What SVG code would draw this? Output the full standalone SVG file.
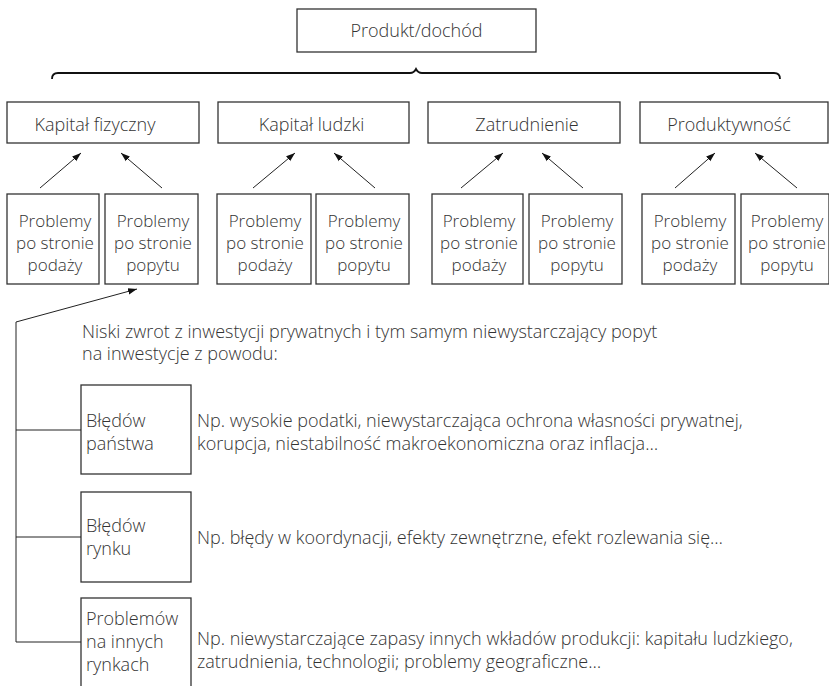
<svg xmlns="http://www.w3.org/2000/svg" width="829" height="686" viewBox="0 0 829 686">
<defs>
<style>
.box{fill:#fff;stroke:#333;stroke-width:1.3}
.t{font-family:"Open Sans","Noto Sans",sans-serif;font-size:18px;font-weight:300;fill:#333}
.s{font-size:17px}
.c{text-anchor:middle}
.ln{fill:none;stroke:#222;stroke-width:1}
.br{fill:none;stroke:#111;stroke-width:1.8}
</style>
<marker id="ah" viewBox="0 0 10 10" refX="10" refY="5" markerWidth="9" markerHeight="9" markerUnits="userSpaceOnUse" orient="auto">
<path d="M0,1.5 L10,5 L0,8.5 Z" fill="#111"/>
</marker>
</defs>
<rect width="829" height="686" fill="#fff"/>

<g id="produkt">
<rect class="box" x="297" y="9" width="239" height="43"/>
<text class="t c" x="416.5" y="37">Produkt/dochód</text>
</g>

<g id="brace">
<path class="br" d="M52,79 Q52,73 58,73 L410,73 Q414,73 416,69 Q418,73 422,73 L774,73 Q780,73 780,79"/>
</g>

<g id="kapital-fizyczny">
<rect class="box" x="7" y="102" width="192" height="41"/>
<text class="t c" x="95" y="131">Kapitał fizyczny</text>
</g>
<g id="kapital-ludzki">
<rect class="box" x="218" y="102" width="191" height="41"/>
<text class="t c" x="311.5" y="131">Kapitał ludzki</text>
</g>
<g id="zatrudnienie">
<rect class="box" x="428" y="102" width="192" height="41"/>
<text class="t c" x="527" y="131">Zatrudnienie</text>
</g>
<g id="produktywnosc">
<rect class="box" x="640" y="102" width="188" height="41"/>
<text class="t c" x="729" y="131">Produktywność</text>
</g>

<g id="kf-podaz">
<rect class="box" x="7" y="194" width="92" height="90"/>
<text class="t s c" x="55" y="227">Problemy</text><text class="t s c" x="55" y="249">po stronie</text><text class="t s c" x="55" y="271">podaży</text>
</g>
<g id="kf-popyt">
<rect class="box" x="105" y="194" width="93" height="90"/>
<text class="t s c" x="153" y="227">Problemy</text><text class="t s c" x="153" y="249">po stronie</text><text class="t s c" x="153" y="271">popytu</text>
</g>
<g id="kl-podaz">
<rect class="box" x="217" y="194" width="94" height="90"/>
<text class="t s c" x="265" y="227">Problemy</text><text class="t s c" x="265" y="249">po stronie</text><text class="t s c" x="265" y="271">podaży</text>
</g>
<g id="kl-popyt">
<rect class="box" x="316" y="194" width="93" height="90"/>
<text class="t s c" x="364" y="227">Problemy</text><text class="t s c" x="364" y="249">po stronie</text><text class="t s c" x="364" y="271">popytu</text>
</g>
<g id="z-podaz">
<rect class="box" x="432" y="194" width="91" height="90"/>
<text class="t s c" x="479" y="227">Problemy</text><text class="t s c" x="479" y="249">po stronie</text><text class="t s c" x="479" y="271">podaży</text>
</g>
<g id="z-popyt">
<rect class="box" x="529" y="194" width="93" height="90"/>
<text class="t s c" x="577" y="227">Problemy</text><text class="t s c" x="577" y="249">po stronie</text><text class="t s c" x="577" y="271">popytu</text>
</g>
<g id="p-podaz">
<rect class="box" x="642" y="194" width="93" height="90"/>
<text class="t s c" x="690" y="227">Problemy</text><text class="t s c" x="690" y="249">po stronie</text><text class="t s c" x="690" y="271">podaży</text>
</g>
<g id="p-popyt">
<rect class="box" x="741" y="194" width="88" height="90"/>
<text class="t s c" x="787" y="227">Problemy</text><text class="t s c" x="787" y="249">po stronie</text><text class="t s c" x="787" y="271">popytu</text>
</g>

<g id="intro">
<text class="t" x="82" y="338">Niski zwrot z inwestycji prywatnych i tym samym niewystarczający popyt</text>
<text class="t" x="82" y="360">na inwestycje z powodu:</text>
</g>

<g id="bledy-panstwa">
<rect class="box" x="81" y="385" width="110" height="89"/>
<text class="t" x="86" y="427">Błędów</text><text class="t" x="86" y="450">państwa</text>
<text class="t" x="197" y="427">Np. wysokie podatki, niewystarczająca ochrona własności prywatnej,</text>
<text class="t" x="197" y="450">korupcja, niestabilność makroekonomiczna oraz inflacja…</text>
</g>
<g id="bledy-rynku">
<rect class="box" x="81" y="492" width="110" height="90"/>
<text class="t" x="86" y="532">Błędów</text><text class="t" x="86" y="555">rynku</text>
<text class="t" x="197" y="544">Np. błędy w koordynacji, efekty zewnętrzne, efekt rozlewania się…</text>
</g>
<g id="inne-rynki">
<rect class="box" x="81" y="598" width="110" height="100"/>
<text class="t" x="86" y="625">Problemów</text><text class="t" x="86" y="648">na innych</text><text class="t" x="86" y="671">rynkach</text>
<text class="t" x="197" y="645">Np. niewystarczające zapasy innych wkładów produkcji: kapitału ludzkiego,</text>
<text class="t" x="197" y="668">zatrudnienia, technologii; problemy geograficzne…</text>
</g>

<g id="connectors">
<line class="ln" x1="40" y1="188" x2="81" y2="153" marker-end="url(#ah)"/>
<line class="ln" x1="162" y1="188" x2="121" y2="153" marker-end="url(#ah)"/>
<line class="ln" x1="253" y1="188" x2="295" y2="153" marker-end="url(#ah)"/>
<line class="ln" x1="375" y1="188" x2="334" y2="153" marker-end="url(#ah)"/>
<line class="ln" x1="461" y1="188" x2="503" y2="153" marker-end="url(#ah)"/>
<line class="ln" x1="583" y1="188" x2="542" y2="153" marker-end="url(#ah)"/>
<line class="ln" x1="675" y1="188" x2="715" y2="153" marker-end="url(#ah)"/>
<line class="ln" x1="797" y1="188" x2="755" y2="153" marker-end="url(#ah)"/>
<path class="ln" d="M16,642 L16,322 L137,289" marker-end="url(#ah)"/>
<line class="ln" x1="16" y1="430" x2="81" y2="430"/>
<line class="ln" x1="16" y1="537" x2="81" y2="537"/>
<line class="ln" x1="16" y1="642" x2="81" y2="642"/>
</g>
</svg>
